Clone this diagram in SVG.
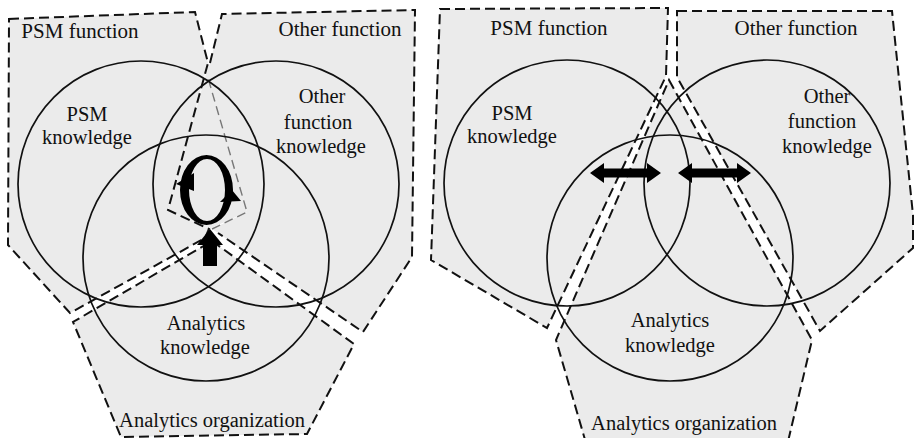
<svg xmlns="http://www.w3.org/2000/svg" width="914" height="438" viewBox="0 0 914 438">
<style>
.reg{fill:#ebebeb;stroke:#111;stroke-width:2;stroke-dasharray:10 5;stroke-linejoin:miter}
.regfill{fill:#ebebeb;stroke:none}
.reg2{fill:none;stroke:#777;stroke-width:1.4;stroke-dasharray:9 5}
.circ{fill:none;stroke:#111;stroke-width:1.7}
text{font-family:'Liberation Serif','Times New Roman',serif;fill:#111;text-anchor:middle}
.t{font-size:20.5px}
.h{font-size:21px}
.sym{fill:#000;stroke:none}
</style>
<rect width="914" height="438" fill="#fff"/>

<!-- LEFT PANEL -->
<g id="left-shared-area"><polygon class="regfill" points="209,63 168,210 209,229 247,212"/></g>
<g id="left-psm-function">
  <polygon class="reg" points="9,19 195,12 208,63 168,210 209,229 205,238 70,313 8,245"/>
  <text class="h" x="80" y="38">PSM function</text>
</g>
<g id="left-other-function">
  <polygon class="regfill" points="222,14 415,10 412,257 363,332 218,233 212,229 247,212 208,78 210,63"/>
  <polyline fill="none" stroke="#111" stroke-width="2" stroke-dasharray="10 5" points="210,63 222,14 415,10 412,257 363,332 218,233"/>
  <polyline class="reg2" points="212,229 247,212 208,78"/>
  <text class="h" x="340" y="36">Other function</text>
</g>
<g id="left-analytics-organization">
  <polygon class="reg" points="212,241 354,344 307,434 121,437 73,322"/>
  <text class="t" x="212" y="427">Analytics organization</text>
</g>
<g id="left-psm-knowledge">
  <circle class="circ" cx="141" cy="184" r="123"/>
  <text class="t" x="87" y="121">PSM</text>
  <text class="t" x="87" y="144">knowledge</text>
</g>
<g id="left-other-knowledge">
  <circle class="circ" cx="276" cy="184" r="123"/>
  <text class="t" x="322" y="103">Other</text>
  <text class="t" x="318" y="129">function</text>
  <text class="t" x="321" y="153">knowledge</text>
</g>
<g id="left-analytics-knowledge">
  <circle class="circ" cx="206" cy="258" r="123"/>
  <text class="t" x="206" y="330">Analytics</text>
  <text class="t" x="205" y="354">knowledge</text>
</g>

<!-- RIGHT PANEL -->
<g id="right-psm-function">
  <polygon class="reg" points="440,9 668,8 666,76 547,328 431,260"/>
  <text class="h" x="549" y="35">PSM function</text>
</g>
<g id="right-other-function">
  <polygon class="reg" points="677,11 892,11 913,215 913,248 820,331 677,77"/>
  <text class="h" x="796" y="35">Other function</text>
</g>
<g id="right-analytics-organization">
  <polygon class="reg" points="669,80 812,340 786,450 588,450 556,340"/>
  <text class="t" x="684" y="430">Analytics organization</text>
</g>
<g id="right-psm-knowledge">
  <circle class="circ" cx="567" cy="183" r="123"/>
  <text class="t" x="512" y="120">PSM</text>
  <text class="t" x="512" y="143">knowledge</text>
</g>
<g id="right-other-knowledge">
  <circle class="circ" cx="767" cy="183" r="123"/>
  <text class="t" x="827" y="103">Other</text>
  <text class="t" x="822" y="128">function</text>
  <text class="t" x="827" y="153">knowledge</text>
</g>
<g id="right-analytics-knowledge">
  <circle class="circ" cx="670" cy="258" r="123"/>
  <text class="t" x="670" y="327">Analytics</text>
  <text class="t" x="670" y="352">knowledge</text>
</g>

<!-- arrows / connectors -->
<g id="connectors">
  <path class="sym" fill-rule="evenodd" d="M180,190 a26.5,35 0 1,0 53,0 a26.5,35 0 1,0 -53,0 Z M189,190 a18,31 0 1,0 36,0 a18,31 0 1,0 -36,0 Z"/>
  <polygon class="sym" points="176,184 194,173 194,191"/>
  <polygon class="sym" points="232,190 220,202 241,201"/>
  <path class="sym" d="M210,229 L223,245 L217,245 L217,266 L203,266 L203,245 L197,245 Z"/>
  <path class="sym" d="M590,173 L604,163 L604,168.5 L647,168.5 L647,163 L661,173 L647,183 L647,177.5 L604,177.5 L604,183 Z"/>
  <path class="sym" d="M678,173 L692,163 L692,168.5 L737,168.5 L737,163 L751,173 L737,183 L737,177.5 L692,177.5 L692,183 Z"/>
</g>
</svg>
